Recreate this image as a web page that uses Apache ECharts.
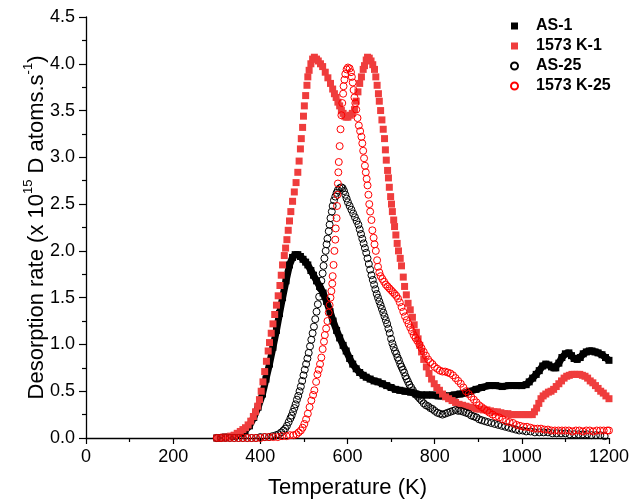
<!DOCTYPE html>
<html><head><meta charset="utf-8">
<script src="https://cdn.jsdelivr.net/npm/echarts@6/dist/echarts.min.js"></script>
<style>html,body{margin:0;padding:0;background:#fff}#c{width:632px;height:504px}</style>
</head><body><div id="c"></div>
<script>
const seriesNames = ['AS-1', '1573 K-1', 'AS-25', '1573 K-25'];
const xTickValues = [0, 200, 400, 600, 800, 1000, 1200];
const yTickValues = [0, 0.5, 1, 1.5, 2, 2.5, 3, 3.5, 4, 4.5];

// AS-1 : [temperature K, desorption rate]
const as1 = [[300,0],[320,0.01],[340,0.02],[355,0.05],[365,0.08],[375,0.13],[385,0.22],[395,0.33],[405,0.47],[413,0.63],[421,0.79],[429,0.97],[437,1.15],[444,1.33],[451,1.5],[459,1.68],[467,1.85],[474,1.93],[480,1.96],[486,1.96],[492,1.94],[498,1.91],[504,1.88],[509,1.85],[516,1.79],[522,1.74],[529,1.68],[536,1.62],[544,1.55],[552,1.46],[560,1.35],[567,1.25],[575,1.15],[582,1.07],[590,0.99],[597,0.93],[605,0.85],[612,0.79],[620,0.74],[628,0.7],[636,0.67],[643,0.65],[652,0.63],[661,0.61],[670,0.6],[680,0.58],[690,0.56],[700,0.54],[710,0.52],[720,0.51],[732,0.5],[745,0.49],[757,0.47],[770,0.46],[782,0.46],[795,0.46],[808,0.45],[820,0.45],[832,0.45],[845,0.46],[858,0.47],[870,0.48],[882,0.5],[895,0.52],[908,0.54],[925,0.56],[940,0.56],[955,0.55],[970,0.56],[987,0.56],[1000,0.56],[1010,0.57],[1017,0.6],[1025,0.64],[1033,0.68],[1040,0.72],[1048,0.77],[1055,0.79],[1062,0.78],[1068,0.76],[1074,0.75],[1078,0.75],[1085,0.8],[1092,0.86],[1100,0.9],[1108,0.91],[1114,0.88],[1120,0.85],[1127,0.84],[1134,0.86],[1141,0.9],[1148,0.92],[1155,0.93],[1161,0.93],[1168,0.92],[1175,0.91],[1184,0.89],[1192,0.86],[1200,0.83]];

// 1573 K-1
const k1 = [[300,0],[308,0],[316,0.01],[324,0.01],[332,0.02],[340,0.03],[347,0.05],[354,0.07],[360,0.09],[366,0.11],[372,0.14],[378,0.18],[384,0.23],[389,0.28],[394,0.34],[398,0.41],[402,0.5],[406,0.6],[410,0.71],[414,0.82],[418,0.93],[421,1.02],[425,1.12],[429,1.22],[433,1.32],[437,1.42],[441,1.52],[445,1.63],[448,1.74],[451,1.85],[455,1.95],[458,2.03],[461,2.12],[464,2.22],[467,2.32],[470,2.42],[474,2.53],[478,2.63],[482,2.73],[486,2.84],[489,2.96],[492,3.09],[494,3.2],[497,3.32],[499,3.44],[501,3.55],[504,3.66],[507,3.77],[509,3.86],[512,3.93],[516,4.0],[520,4.05],[524,4.07],[529,4.05],[533,4.03],[538,4.0],[543,3.97],[549,3.91],[555,3.85],[561,3.79],[566,3.73],[570,3.68],[574,3.64],[578,3.59],[582,3.55],[586,3.5],[590,3.47],[594,3.44],[597,3.43],[601,3.43],[606,3.45],[611,3.47],[616,3.51],[620,3.6],[624,3.7],[628,3.79],[632,3.86],[636,3.94],[639,3.98],[643,4.04],[646,4.07],[650,4.06],[654,4.03],[658,3.99],[662,3.94],[665,3.86],[668,3.77],[671,3.68],[673,3.6],[676,3.5],[679,3.4],[682,3.3],[685,3.2],[687,3.08],[689,2.97],[692,2.86],[694,2.78],[696,2.68],[699,2.58],[701,2.5],[703,2.42],[706,2.33],[708,2.26],[711,2.17],[714,2.08],[717,2.0],[721,1.92],[724,1.84],[728,1.72],[731,1.62],[735,1.53],[739,1.44],[744,1.37],[749,1.29],[753,1.21],[758,1.13],[762,1.06],[766,0.99],[770,0.92],[775,0.84],[781,0.76],[787,0.69],[793,0.63],[799,0.58],[805,0.54],[811,0.51],[818,0.47],[825,0.44],[832,0.42],[840,0.4],[848,0.38],[856,0.36],[864,0.35],[872,0.34],[880,0.33],[888,0.32],[896,0.31],[904,0.31],[912,0.3],[920,0.3],[928,0.29],[936,0.28],[944,0.28],[952,0.27],[960,0.26],[968,0.26],[976,0.25],[984,0.25],[992,0.25],[1000,0.25],[1008,0.25],[1016,0.25],[1024,0.25],[1029,0.28],[1034,0.32],[1039,0.37],[1044,0.42],[1049,0.45],[1055,0.47],[1061,0.49],[1067,0.5],[1073,0.52],[1079,0.55],[1085,0.58],[1091,0.61],[1097,0.64],[1103,0.66],[1109,0.67],[1115,0.68],[1121,0.68],[1127,0.68],[1133,0.68],[1139,0.67],[1145,0.66],[1151,0.64],[1157,0.61],[1163,0.59],[1169,0.56],[1175,0.53],[1181,0.5],[1187,0.48],[1193,0.45],[1200,0.42]];

// AS-25
const as25 = [[300,0],[310,0],[320,0],[330,0],[340,0],[350,0],[360,0],[370,0],[380,0],[390,0],[400,0.01],[410,0.01],[420,0.01],[428,0.02],[436,0.03],[442,0.04],[448,0.06],[453,0.08],[457,0.1],[461,0.13],[465,0.17],[469,0.21],[472,0.24],[475,0.28],[478,0.32],[481,0.36],[484,0.41],[487,0.45],[490,0.5],[493,0.55],[496,0.61],[499,0.67],[502,0.73],[505,0.79],[508,0.85],[511,0.91],[514,0.98],[517,1.05],[520,1.12],[523,1.19],[526,1.27],[529,1.35],[532,1.43],[535,1.51],[538,1.6],[540,1.68],[543,1.76],[545,1.84],[547,1.92],[550,2.0],[552,2.07],[554,2.13],[557,2.21],[559,2.28],[561,2.35],[564,2.42],[566,2.48],[569,2.54],[572,2.58],[575,2.62],[578,2.65],[582,2.67],[586,2.68],[589,2.67],[592,2.64],[595,2.6],[598,2.56],[601,2.52],[605,2.48],[609,2.44],[613,2.4],[617,2.36],[621,2.32],[625,2.28],[628,2.23],[631,2.18],[634,2.13],[637,2.08],[640,2.03],[643,1.98],[646,1.92],[649,1.86],[652,1.8],[655,1.74],[658,1.69],[661,1.64],[664,1.59],[667,1.54],[670,1.5],[673,1.46],[676,1.42],[679,1.38],[682,1.34],[685,1.3],[688,1.26],[691,1.22],[694,1.17],[697,1.12],[700,1.06],[703,1.01],[706,0.97],[709,0.93],[712,0.9],[715,0.86],[718,0.83],[721,0.79],[724,0.76],[727,0.73],[730,0.7],[733,0.66],[736,0.63],[739,0.6],[742,0.57],[746,0.54],[750,0.51],[754,0.48],[758,0.46],[762,0.44],[766,0.42],[770,0.4],[775,0.37],[780,0.35],[785,0.34],[790,0.32],[795,0.31],[800,0.29],[806,0.27],[812,0.26],[818,0.25],[824,0.26],[830,0.27],[836,0.28],[842,0.29],[848,0.3],[854,0.29],[860,0.29],[866,0.28],[872,0.27],[878,0.26],[884,0.24],[890,0.23],[896,0.22],[902,0.2],[908,0.19],[915,0.18],[922,0.17],[930,0.16],[938,0.15],[946,0.14],[954,0.13],[962,0.12],[970,0.11],[978,0.1],[986,0.09],[994,0.08],[1002,0.08],[1010,0.07],[1020,0.07],[1030,0.06],[1040,0.06],[1050,0.06],[1060,0.06],[1070,0.05],[1080,0.05],[1090,0.05],[1100,0.05],[1110,0.04],[1120,0.04],[1130,0.04],[1140,0.04],[1150,0.04],[1160,0.03],[1170,0.03],[1180,0.03],[1190,0.02]];

// 1573 K-25
const k25 = [[300,0],[310,0],[320,0],[330,0],[340,0],[350,0],[360,0],[370,0],[380,0],[390,0],[400,0],[410,0.01],[420,0.01],[430,0.01],[440,0.01],[450,0.02],[460,0.02],[468,0.03],[476,0.03],[483,0.04],[488,0.06],[493,0.08],[497,0.11],[501,0.15],[505,0.2],[509,0.26],[513,0.33],[517,0.4],[521,0.46],[524,0.51],[528,0.6],[531,0.68],[534,0.73],[537,0.79],[540,0.86],[543,0.95],[546,1.03],[548,1.1],[551,1.17],[554,1.25],[557,1.34],[559,1.42],[561,1.5],[563,1.57],[565,1.65],[566,1.73],[568,1.85],[570,2.0],[572,2.12],[573,2.24],[575,2.35],[576,2.48],[577,2.6],[578,2.72],[579,2.84],[580,2.95],[582,3.12],[584,3.3],[586,3.45],[588,3.58],[590,3.68],[591,3.76],[593,3.83],[595,3.89],[598,3.94],[601,3.96],[605,3.95],[608,3.91],[610,3.86],[612,3.8],[614,3.72],[616,3.64],[618,3.58],[620,3.51],[623,3.42],[626,3.34],[629,3.28],[632,3.22],[634,3.15],[636,3.07],[638,2.99],[640,2.91],[642,2.84],[644,2.77],[646,2.7],[648,2.6],[650,2.5],[652,2.42],[655,2.33],[657,2.22],[660,2.14],[662,2.07],[665,2.0],[668,1.9],[670,1.83],[673,1.77],[676,1.73],[680,1.7],[684,1.67],[688,1.64],[692,1.62],[696,1.6],[700,1.58],[704,1.56],[708,1.54],[712,1.52],[716,1.49],[720,1.45],[724,1.4],[728,1.35],[732,1.3],[736,1.26],[740,1.22],[744,1.18],[748,1.14],[752,1.1],[756,1.07],[760,1.04],[765,1.0],[770,0.96],[775,0.92],[780,0.88],[785,0.84],[790,0.81],[795,0.79],[800,0.76],[806,0.74],[812,0.72],[818,0.71],[824,0.71],[830,0.7],[836,0.69],[842,0.67],[848,0.64],[854,0.61],[860,0.58],[866,0.54],[872,0.5],[878,0.47],[884,0.44],[890,0.41],[896,0.38],[902,0.35],[908,0.33],[914,0.31],[920,0.29],[926,0.27],[933,0.25],[940,0.23],[948,0.22],[956,0.2],[964,0.18],[972,0.17],[980,0.16],[988,0.14],[996,0.13],[1004,0.12],[1012,0.12],[1020,0.11],[1028,0.1],[1036,0.1],[1044,0.1],[1052,0.09],[1060,0.09],[1068,0.08],[1076,0.08],[1084,0.08],[1092,0.08],[1100,0.08],[1108,0.08],[1116,0.07],[1124,0.08],[1132,0.08],[1140,0.07],[1148,0.08],[1156,0.08],[1164,0.07],[1172,0.08],[1180,0.08],[1188,0.08],[1196,0.08],[1200,0.08]];

const FONT = '"Liberation Sans", Arial, sans-serif';
const BLACK = '#000000', RED_SQ = '#ef3d3d', RED_CI = '#ff0000';

const chart = echarts.init(document.getElementById('c'), null, {renderer: 'canvas'});
chart.setOption({
  animation: false,
  backgroundColor: '#ffffff',
  grid: {left: 86, right: 22, top: 17, bottom: 63, containLabel: false},
  legend: {
    orient: 'vertical', left: 505, top: 13, itemWidth: 7, itemHeight: 7, itemGap: 4,
    textStyle: {fontFamily: FONT, fontSize: 16, fontWeight: 'bold', color: '#000', padding: [0, 0, 0, 13]},
    data: [
      {name: seriesNames[0], icon: 'rect'},
      {name: seriesNames[1], icon: 'rect'},
      {name: seriesNames[2], icon: 'circle'},
      {name: seriesNames[3], icon: 'circle'}
    ]
  },
  xAxis: {
    type: 'value', min: xTickValues[0], max: xTickValues[xTickValues.length - 1], interval: 200,
    name: 'Temperature (K)', nameLocation: 'middle', nameGap: 39, nameMoveOverlap: false,
    nameTextStyle: {fontFamily: FONT, fontSize: 22, color: '#000'},
    axisLine: {show: true, onZero: false, lineStyle: {color: '#000', width: 1.3}},
    axisTick: {show: true, inside: false, length: 6, lineStyle: {color: '#000', width: 1.2}},
    minorTick: {show: true, splitNumber: 2, length: 4, lineStyle: {color: '#000', width: 1.2}},
    axisLabel: {fontFamily: FONT, fontSize: 18, color: '#000', margin: 10, formatter: v => String(v)},
    splitLine: {show: false}
  },
  yAxis: {
    type: 'value', min: yTickValues[0], max: yTickValues[yTickValues.length - 1], interval: 0.5,
    name: '{n|Desorption rate (x 10}{s|15}{n| D atoms.s}{s|-1}{n|)}',
    nameLocation: 'middle', nameRotate: 90, nameGap: 38, nameMoveOverlap: false,
    nameTextStyle: {
      fontFamily: FONT, fontSize: 22, color: '#000',
      rich: {
        n: {fontFamily: FONT, fontSize: 22, color: '#000', lineHeight: 26, verticalAlign: 'bottom'},
        s: {fontFamily: FONT, fontSize: 13, color: '#000', lineHeight: 13, verticalAlign: 'top'}
      }
    },
    axisLine: {show: true, onZero: false, lineStyle: {color: '#000', width: 1.3}},
    axisTick: {show: true, inside: false, length: 7, lineStyle: {color: '#000', width: 1.2}},
    minorTick: {show: true, splitNumber: 2, length: 4, lineStyle: {color: '#000', width: 1.2}},
    axisLabel: {fontFamily: FONT, fontSize: 18, color: '#000', margin: 11, formatter: v => v.toFixed(1)},
    splitLine: {show: false}
  },
  series: [
    {
      name: seriesNames[0], type: 'line', data: as1, symbol: 'rect', symbolSize: 7, showSymbol: true,
      lineStyle: {color: BLACK, width: 7}, itemStyle: {color: BLACK}, z: 2
    },
    {
      name: seriesNames[1], type: 'scatter', data: k1, symbol: 'rect', symbolSize: 7,
      itemStyle: {color: RED_SQ, opacity: 1}, z: 3
    },
    {
      name: seriesNames[2], type: 'scatter', data: as25, symbol: 'circle', symbolSize: 7,
      itemStyle: {color: 'rgba(255,255,255,0)', borderColor: BLACK, borderWidth: 1, opacity: 1}, z: 4
    },
    {
      name: seriesNames[3], type: 'scatter', data: k25, symbol: 'circle', symbolSize: 7,
      itemStyle: {color: 'rgba(255,255,255,0)', borderColor: RED_CI, borderWidth: 1, opacity: 1}, z: 5
    }
  ]
});
</script></body></html>
